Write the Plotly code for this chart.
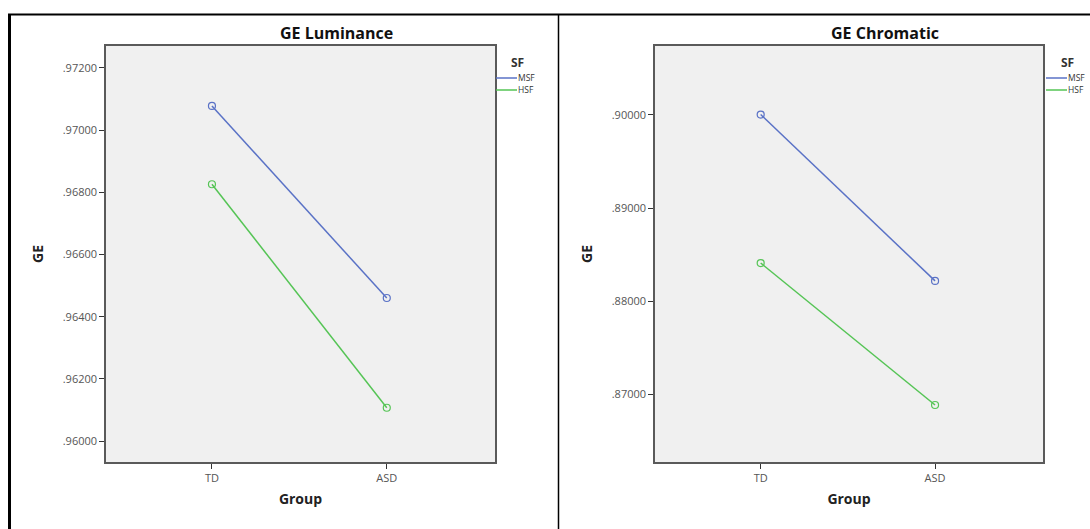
import plotly.graph_objects as go

W, H = 1090, 529

groups = ["TD", "ASD"]
series = ["MSF", "HSF"]
lum_msf = [0.97078, 0.96460]
lum_hsf = [0.96826, 0.96107]
chr_msf = [0.90005, 0.88218]
chr_hsf = [0.88410, 0.86885]

lum_ticks = [0.960, 0.962, 0.964, 0.966, 0.968, 0.970, 0.972]
lum_ticktext = [".96000", ".96200", ".96400", ".96600", ".96800", ".97000", ".97200"]
chr_ticks = [0.87, 0.88, 0.89, 0.90]
chr_ticktext = [".87000", ".88000", ".89000", ".90000"]

COLORS = {"MSF": "#5a72c6", "HSF": "#55c455"}
FONT = "Open Sans"


def px_x(p):
    return p / W


def px_y(p):
    return 1 - p / H


fig = go.Figure()

panels = [
    ("x", "y", {"MSF": lum_msf, "HSF": lum_hsf}),
    ("x2", "y2", {"MSF": chr_msf, "HSF": chr_hsf}),
]
for xa, ya, data in panels:
    for name in series:
        col = COLORS[name]
        fig.add_trace(go.Scatter(
            x=groups, y=data[name], xaxis=xa, yaxis=ya, mode="lines+markers", name=name,
            line=dict(color=col, width=1.5),
            marker=dict(symbol="circle-open", size=7, color=col, line=dict(width=1.2)),
            showlegend=False, hoverinfo="skip"))

axis_common = dict(
    showline=True, linecolor="#5a5a5a", linewidth=1.5, mirror=True,
    ticks="outside", ticklen=5, tickcolor="#333333", tickwidth=1.2,
    showgrid=False, zeroline=False,
    tickfont=dict(family=FONT, size=11, color="#555555"),
)
axis_title_font = dict(family=FONT, size=14, color="#222222", weight="bold")
title_font = dict(family=FONT, size=16, color="#111111", weight="bold")

fig.update_layout(
    width=W, height=H, margin=dict(l=0, r=0, t=0, b=0),
    paper_bgcolor="white", plot_bgcolor="#f0f0f0",
    font=dict(family=FONT),
    showlegend=False,
    xaxis=dict(domain=[px_x(106), px_x(495)], range=[-0.606, 1.619], anchor="y",
               title=dict(text="Group", font=axis_title_font, standoff=10), **axis_common),
    yaxis=dict(domain=[px_y(462), px_y(46)], range=[0.959325, 0.972707], anchor="x",
               tickvals=lum_ticks, ticktext=lum_ticktext,
               title=dict(text="GE", font=axis_title_font, standoff=16), **axis_common),
    xaxis2=dict(domain=[px_x(655), px_x(1043)], range=[-0.606, 1.619], anchor="y2",
                title=dict(text="Group", font=axis_title_font, standoff=10), **axis_common),
    yaxis2=dict(domain=[px_y(462), px_y(46)], range=[0.86273, 0.90741], anchor="x2",
                tickvals=chr_ticks, ticktext=chr_ticktext,
                title=dict(text="GE", font=axis_title_font, standoff=16), **axis_common),
)

fig.add_annotation(text="GE Luminance", x=px_x(336), y=px_y(33), xref="paper", yref="paper",
                   showarrow=False, font=title_font, xanchor="center", yanchor="middle")
fig.add_annotation(text="GE Chromatic", x=px_x(885), y=px_y(33), xref="paper", yref="paper",
                   showarrow=False, font=title_font, xanchor="center", yanchor="middle")

# legends (one per panel): title "SF" and a short line key per series
for lx, tx in [(496, 509), (1046, 1059)]:
    fig.add_annotation(text="<b>SF</b>", x=px_x(tx), y=px_y(62), xref="paper", yref="paper",
                       showarrow=False, xanchor="left", yanchor="middle",
                       font=dict(family=FONT, size=12, color="#333333"))
    for i, name in enumerate(series):
        yy = 78 + 12 * i
        fig.add_shape(type="line", xref="paper", yref="paper",
                      x0=px_x(lx), x1=px_x(lx + 21), y0=px_y(yy), y1=px_y(yy),
                      line=dict(color=COLORS[name], width=1.5))
        fig.add_annotation(text=name, x=px_x(lx + 20), y=px_y(yy), xref="paper", yref="paper",
                           showarrow=False, xanchor="left", yanchor="middle",
                           font=dict(family=FONT, size=8.5, color="#333333"))

# cell borders of the surrounding table
fig.add_shape(type="line", xref="paper", yref="paper", x0=px_x(8), x1=1, y0=px_y(14.5), y1=px_y(14.5),
              line=dict(color="black", width=2))
fig.add_shape(type="line", xref="paper", yref="paper", x0=px_x(9.5), x1=px_x(9.5), y0=px_y(14), y1=0,
              line=dict(color="black", width=3))
fig.add_shape(type="line", xref="paper", yref="paper", x0=px_x(558.5), x1=px_x(558.5), y0=px_y(14), y1=0,
              line=dict(color="black", width=1.5))

fig.write_html("out.html", config={"displayModeBar": False},
               post_script="document.body.style.margin='0';")
